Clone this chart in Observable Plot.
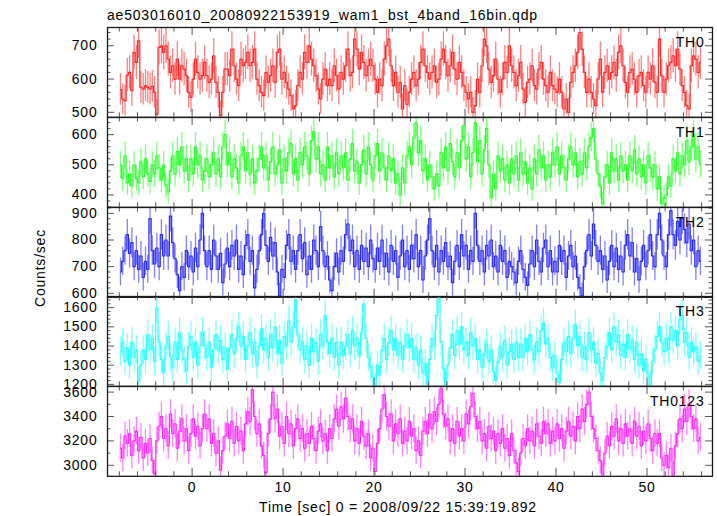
<!DOCTYPE html>
<html><head><meta charset="utf-8">
<script src="https://cdn.jsdelivr.net/npm/d3@7"></script>
<script src="https://cdn.jsdelivr.net/npm/@observablehq/plot@0.6"></script>
<style>
html,body{margin:0;padding:0;background:#fff;}
#chart{position:relative;width:717px;height:516px;background:#fff;font-family:"Liberation Sans",Arial,sans-serif;overflow:hidden;color:#000;}
.lbl{position:absolute;font-size:14px;letter-spacing:0.8px;white-space:nowrap;line-height:18px;}
</style></head><body><div id="chart"></div>
<script>
const title = "ae503016010_20080922153919_wam1_bst_4band_16bin.qdp";
const xLabel = "Time [sec] 0 = 2008/09/22 15:39:19.892";
const yLabel = "Counts/sec";
const bandNames = ["TH0","TH1","TH2","TH3","TH0123"];
const bandColors = ["#ff2b2b","#2bff2b","#2b2bff","#2bffff","#ff2bff"];
const binStart = -7.875;   // centre of first 0.25 s bin
const binWidth = 0.25;
const xMajorTicks = [0,10,20,30,40,50];
const xDomain = [-9.3, 57.2];
const yDomains = [[485,755],[359,657],[585,922],[1190,1658],[2910,3646]];
const yMajorTicks = [[500,600,700],[400,500,600],[600,700,800,900],[1200,1300,1400,1500,1600],[3000,3200,3400,3600]];
const yMinorSteps = [20,20,20,20,100];

const th0 = [
569,540,535,612,620,565,680,650,715,575,570,580,575,570,578,560,494,695,700,680,
700,660,620,640,600,660,600,640,630,610,560,545,600,660,620,600,610,650,610,590,
600,670,590,560,490,560,630,630,610,690,640,600,580,660,640,650,680,640,650,690,
600,580,560,550,620,590,610,640,590,680,690,600,620,590,570,550,510,520,580,620,
600,680,650,700,660,640,610,570,540,600,630,580,600,580,640,610,570,620,600,640,
690,610,620,720,690,630,680,650,610,640,
660,640,600,560,600,580,660,700,720,640,580,620,560,590,510,580,524,560,600,620,
580,600,650,690,640,620,600,620,640,590,600,660,690,650,610,640,680,630,600,650,
620,580,560,540,560,500,520,600,560,640,720,700,630,590,610,660,600,560,600,650,
620,700,640,620,580,610,650,570,530,590,600,640,580,570,630,650,600,580,560,620,
580,570,560,600,560,510,540,500,590,620,640,680,740,690,620,560,600,560,540,520,
600,660,560,620,640,600,620,650,610,680,700,640,590,560,620,630,600,560,610,620,
580,560,620,600,640,590,560,720,610,560,600,640,650,670,640,690,630,580,560,520,
510,640,670,660,620,650];

const th1 = [
500,455,530,440,470,430,500,455,440,510,460,520,470,445,500,470,
530,490,450,500,430,410,480,530,470,545,500,560,480,520,450,520,
470,560,500,530,450,480,520,460,500,540,470,520,460,560,600,500,
540,460,520,490,440,530,560,480,540,470,520,440,480,520,560,490,
530,450,510,560,470,500,550,440,520,480,540,570,470,520,450,540,
500,560,530,470,580,610,520,560,470,500,450,560,490,530,460,540,
470,530,490,540,450,520,570,480,510,440,500,550,470,560,500,450,
530,570,480,540,490,450,530,480,520,440,470,400,490,440,530,560,
500,590,640,540,580,480,520,450,500,460,420,470,430,540,490,560,
480,570,510,460,540,490,580,630,520,560,460,540,640,510,580,470,
550,620,500,390,470,420,530,480,520,450,500,440,520,470,530,450,
540,470,510,440,490,420,520,470,550,490,530,450,500,460,540,500,
560,470,530,490,450,520,560,500,540,460,510,470,540,490,560,590,
620,520,470,430,370,460,500,440,540,480,520,450,530,480,500,450,
530,480,550,470,520,460,500,440,530,490,460,500,420,460,370,390,
400,460,430,520,480,540,470,530,500,580,510,560,600,520,560,500];

const th2 = [
680,720,760,820,750,790,700,760,690,740,660,720,690,880,760,710,
770,700,820,740,800,740,890,790,730,670,610,700,660,760,700,740,
680,770,700,800,900,760,700,760,690,800,740,690,750,640,710,770,
700,780,740,800,690,740,670,780,820,720,760,620,690,760,820,900,
780,720,810,740,790,680,590,690,660,780,820,720,760,690,760,820,
730,790,670,740,690,800,760,700,850,760,700,740,650,610,700,750,
680,760,720,820,860,760,800,700,760,690,780,720,770,700,800,730,
690,770,720,800,700,750,680,780,720,760,660,740,800,700,760,690,
780,730,820,700,760,650,740,800,880,760,700,780,680,760,720,790,
700,740,640,720,780,700,820,740,780,690,760,720,900,780,720,760,
680,780,740,800,700,740,680,780,720,760,660,720,700,680,640,720,
760,690,660,630,710,760,700,800,720,680,770,800,700,760,680,720,
680,780,720,760,660,740,780,700,740,660,620,590,700,760,820,740,
860,780,720,760,690,740,650,720,780,700,770,690,740,680,780,820,
740,790,680,730,650,720,780,700,760,820,740,700,820,900,800,740,
700,820,910,820,780,870,800,880,840,790,860,760,800,700,760,720];

const th3 = [
1370,1420,1320,1390,1300,1420,1340,1380,1220,1300,1380,1330,1460,1380,1440,1320,
1600,1420,1330,1260,1400,1450,1340,1290,1420,1330,1470,1380,1330,1270,1400,1450,
1340,1420,1300,1400,1470,1400,1340,1420,1290,1380,1460,1380,1430,1330,1390,1280,
1390,1460,1360,1440,1500,1400,1450,1330,1400,1470,1360,1420,1300,1400,1490,1380,
1440,1340,1460,1390,1500,1360,1430,1310,1450,1400,1530,1420,1500,1640,1460,1380,
1420,1330,1400,1300,1440,1370,1420,1320,1460,1400,1560,1420,1360,1440,1340,1420,
1300,1420,1350,1400,1460,1360,1480,1400,1440,1350,1470,1620,1440,1340,1290,1240,
1190,1300,1250,1380,1440,1330,1420,1480,1380,1440,1350,1420,1330,1400,1460,1390,
1440,1330,1390,1300,1380,1260,1310,1200,1330,1440,1400,1560,1650,1420,1280,1190,
1300,1390,1460,1350,1480,1410,1500,1380,1420,1350,1470,1400,1440,1330,1380,1290,
1360,1410,1320,1380,1270,1220,1320,1400,1340,1430,1300,1370,1410,1330,1420,1340,
1410,1340,1440,1370,1460,1380,1330,1420,1370,1480,1520,1410,1440,1340,1290,1350,
1260,1210,1330,1420,1370,1450,1360,1440,1510,1400,1450,1340,1400,1330,1470,1380,
1420,1310,1360,1260,1220,1340,1400,1470,1380,1500,1420,1460,1350,1410,1340,1460,
1380,1430,1330,1420,1300,1360,1270,1330,1240,1200,1320,1380,1450,1500,1420,1370,
1440,1380,1500,1430,1480,1400,1540,1560,1420,1470,1340,1420,1370,1400,1320,1350];

const th0123 = [
3140,3060,3240,3180,3260,3080,3200,3280,3120,3230,3060,3180,3100,3220,3040,2930,
3200,3320,3400,3220,3300,3160,3420,3260,3340,3140,3280,3380,3200,3300,3120,3260,
3380,3240,3320,3160,3300,3420,3300,3380,3180,3260,3100,3200,2960,3120,3240,3340,
3220,3360,3180,3320,3200,3280,3120,3340,3440,3360,3620,3400,3260,3340,3160,3080,
2940,3260,3380,3600,3380,3460,3240,3320,3180,3400,3260,3340,3160,3300,3380,3220,
3300,3140,3260,3180,3320,3220,3120,3280,3340,3200,3260,3120,3300,3220,3380,3460,
3320,3480,3380,3550,3400,3300,3380,3200,3300,3180,3360,3240,3160,3260,3060,3140,
2950,3180,3300,3460,3580,3400,3320,3420,3200,3340,3260,3380,3180,3280,3200,3360,
3240,3300,3120,3200,3080,3280,3360,3260,3420,3300,3440,3360,3500,3630,3420,3320,
3380,3200,3300,3180,3360,3240,3300,3200,3420,3340,3480,3590,3400,3300,3360,3200,
3260,3140,3320,3220,3280,3120,3260,3180,3300,3140,3220,3080,3260,3120,3020,2950,
3100,3220,3160,3300,3200,3280,3160,3340,3240,3180,3360,3260,3340,3180,3280,3200,
3340,3220,3300,3140,3280,3360,3240,3320,3200,3400,3300,3460,3360,3500,3600,3400,
3300,3220,3120,3040,2920,3100,3240,3160,3320,3240,3380,3200,3300,3180,3340,3240,
3300,3180,3360,3240,3320,3160,3280,3200,3340,3220,3120,3260,3180,3260,3060,3000,
3080,2980,3140,2920,3160,3260,3380,3300,3460,3360,3500,3400,3300,3380,3200,3230];

const series = [th0, th1, th2, th3, th0123];

const chart = document.getElementById("chart");
const W = 717, ML = 107, MR = 5;
const pw = W - ML - MR;
const plotTop = 27, plotBottom = 476;
const ph = (plotBottom - plotTop) / 5;
const tickCol = "#555", frameCol = "#1a1a1a";

const xMinor = d3.range(-8, 57, 2).filter(v => !xMajorTicks.includes(v));

series.forEach((vals, i) => {
  // Poisson error of a rate in a 0.25 s bin
  const data = vals.map((v, k) => ({t: binStart + k * binWidth, v, e: Math.sqrt(v / binWidth)}));
  const dom = yDomains[i];
  const step = yMinorSteps[i];
  const yMinor = d3.range(Math.ceil(dom[0] / step) * step, dom[1], step).filter(v => !yMajorTicks[i].includes(v));
  const mt = 10, mb = (i === 4) ? 40 : 10;
  const col = bandColors[i];
  const marks = [
    Plot.ruleX(data, {x: "t", y1: d => d.v - d.e, y2: d => d.v + d.e, stroke: col, strokeWidth: 1.3, strokeOpacity: 0.6, clip: true}),
    Plot.line(data, {x: "t", y: "v", curve: "step", stroke: col, strokeWidth: 1.2, clip: true}),
    Plot.tickX(xMinor, {x: d => d, insetTop: ph - 4.5, stroke: tickCol}),
    Plot.tickX(xMajorTicks, {x: d => d, insetTop: ph - 8, stroke: tickCol}),
    Plot.tickX(xMinor, {x: d => d, insetBottom: ph - 4.5, stroke: tickCol}),
    Plot.tickX(xMajorTicks, {x: d => d, insetBottom: ph - 8, stroke: tickCol}),
    Plot.tickY(yMinor, {y: d => d, insetRight: pw - 3.5, stroke: tickCol}),
    Plot.tickY(yMajorTicks[i], {y: d => d, insetRight: pw - 7, stroke: tickCol}),
    Plot.tickY(yMinor, {y: d => d, insetLeft: pw - 3.5, stroke: tickCol}),
    Plot.tickY(yMajorTicks[i], {y: d => d, insetLeft: pw - 7, stroke: tickCol}),
    Plot.frame({stroke: frameCol, strokeWidth: 1.3}),
    Plot.axisY({ticks: yMajorTicks[i], tickSize: 0, tickPadding: 10, tickFormat: d => String(d), label: null}),
    Plot.text([bandNames[i]], {frameAnchor: "top-right", dx: -8, dy: 10, textAnchor: "end", fontSize: 14, fill: "#000"})
  ];
  if (i === 4) {
    marks.push(Plot.axisX({ticks: xMajorTicks, tickSize: 0, tickPadding: 6, tickFormat: d => String(d), label: null}));
  }
  const svg = Plot.plot({
    width: W,
    height: ph + mt + mb,
    marginLeft: ML, marginRight: MR, marginTop: mt, marginBottom: mb,
    x: {domain: xDomain, axis: null},
    y: {domain: dom, axis: null},
    style: {background: "transparent", overflow: "visible", fontFamily: "'Liberation Sans', Arial, sans-serif", fontSize: "14px", letterSpacing: "0.8px", color: "#000"},
    marks
  });
  svg.style.position = "absolute";
  svg.style.left = "0px";
  svg.style.top = (plotTop + i * ph - mt) + "px";
  chart.appendChild(svg);
});

const t = document.createElement("div");
t.className = "lbl"; t.textContent = title;
t.style.left = "107px"; t.style.top = "6px";
chart.appendChild(t);

const xl = document.createElement("div");
xl.className = "lbl"; xl.textContent = xLabel;
xl.style.left = "398px"; xl.style.top = "498px"; xl.style.transform = "translateX(-50%)";
chart.appendChild(xl);

const yl = document.createElement("div");
yl.className = "lbl"; yl.textContent = yLabel;
yl.style.left = "40px"; yl.style.top = "268px"; yl.style.transform = "translate(-50%,-50%) rotate(-90deg)";
chart.appendChild(yl);
</script></body></html>
